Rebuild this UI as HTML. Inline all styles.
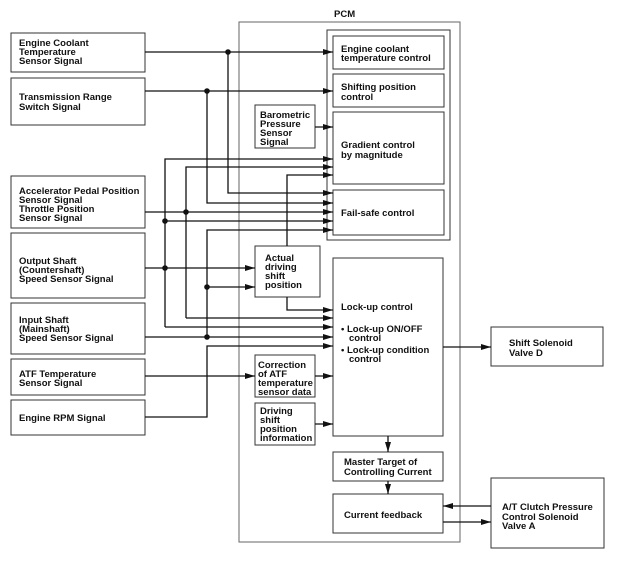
<!DOCTYPE html>
<html><head><style>
body{margin:0;background:#fff}
svg text{font-family:"Liberation Sans",Arial,sans-serif;font-weight:bold;font-size:9.5px;fill:#111}
</style></head><body>
<svg width="617" height="558" viewBox="0 0 617 558" xmlns="http://www.w3.org/2000/svg">
<defs><marker id="a" markerWidth="10" markerHeight="6" refX="10" refY="3" orient="auto" markerUnits="userSpaceOnUse"><path d="M0,0L10,3L0,6z" fill="#111"/></marker></defs>
<g fill="none" stroke="#333" stroke-width="1">
<rect x="11" y="33" width="134" height="39"/>
<rect x="11" y="78" width="134" height="47"/>
<rect x="11" y="176" width="134" height="52"/>
<rect x="11" y="233" width="134" height="65"/>
<rect x="11" y="303" width="134" height="51"/>
<rect x="11" y="359" width="134" height="36"/>
<rect x="11" y="400" width="134" height="35"/>
<rect x="239" y="22" width="221" height="520" stroke="#666"/>
<rect x="327" y="30" width="123" height="210"/>
<rect x="333" y="36" width="111" height="33"/>
<rect x="333" y="74" width="111" height="33"/>
<rect x="333" y="112" width="111" height="72"/>
<rect x="333" y="190" width="111" height="45"/>
<rect x="255" y="105" width="60" height="43"/>
<rect x="255" y="246" width="65" height="51"/>
<rect x="333" y="258" width="110" height="178"/>
<rect x="255" y="355" width="60" height="42"/>
<rect x="255" y="403" width="60" height="42"/>
<rect x="333" y="452" width="110" height="29"/>
<rect x="333" y="494" width="110" height="39"/>
<rect x="491" y="327" width="112" height="39"/>
<rect x="491" y="478" width="113" height="70"/>
</g>
<g fill="none" stroke="#111" stroke-width="1.3">
<path d="M145,52H333" marker-end="url(#a)"/>
<path d="M145,91H333" marker-end="url(#a)"/>
<path d="M315,127H333" marker-end="url(#a)"/>
<path d="M228,52V193H333" marker-end="url(#a)"/>
<path d="M207,91V203H333" marker-end="url(#a)"/>
<path d="M165,327V159H333" marker-end="url(#a)"/>
<path d="M186,318V167H333" marker-end="url(#a)"/>
<path d="M287,246V175H333" marker-end="url(#a)"/>
<path d="M145,212H333" marker-end="url(#a)"/>
<path d="M165,221H333" marker-end="url(#a)"/>
<path d="M207,337V230H333" marker-end="url(#a)"/>
<path d="M145,268H255" marker-end="url(#a)"/>
<path d="M207,287H255" marker-end="url(#a)"/>
<path d="M287,297V310H333" marker-end="url(#a)"/>
<path d="M186,318H333" marker-end="url(#a)"/>
<path d="M165,327H333" marker-end="url(#a)"/>
<path d="M145,337H333" marker-end="url(#a)"/>
<path d="M145,417H207V346H333" marker-end="url(#a)"/>
<path d="M145,376H255" marker-end="url(#a)"/>
<path d="M315,376H333" marker-end="url(#a)"/>
<path d="M315,424H333" marker-end="url(#a)"/>
<path d="M443,347H491" marker-end="url(#a)"/>
<path d="M388,436V452" marker-end="url(#a)"/>
<path d="M388,481V494" marker-end="url(#a)"/>
<path d="M491,506H443" marker-end="url(#a)"/>
<path d="M443,522H491" marker-end="url(#a)"/>
</g>
<g fill="#111">
<circle cx="228" cy="52" r="2.8"/><circle cx="207" cy="91" r="2.8"/>
<circle cx="186" cy="212" r="2.8"/><circle cx="165" cy="221" r="2.8"/>
<circle cx="165" cy="268" r="2.8"/><circle cx="207" cy="287" r="2.8"/>
<circle cx="207" cy="337" r="2.8"/>
</g>
<text x="334" y="17">PCM</text>
<text x="19" y="46">Engine Coolant</text><text x="19" y="55">Temperature</text><text x="19" y="64">Sensor Signal</text>
<text x="19" y="100">Transmission Range</text><text x="19" y="110">Switch Signal</text>
<text x="19" y="194">Accelerator Pedal Position</text><text x="19" y="203">Sensor Signal</text><text x="19" y="212">Throttle Position</text><text x="19" y="221">Sensor Signal</text>
<text x="19" y="264">Output Shaft</text><text x="19" y="273">(Countershaft)</text><text x="19" y="282">Speed Sensor Signal</text>
<text x="19" y="323">Input Shaft</text><text x="19" y="332">(Mainshaft)</text><text x="19" y="341">Speed Sensor Signal</text>
<text x="19" y="377">ATF Temperature</text><text x="19" y="386">Sensor Signal</text>
<text x="19" y="421">Engine RPM Signal</text>
<text x="341" y="52">Engine coolant</text><text x="341" y="61">temperature control</text>
<text x="341" y="90">Shifting position</text><text x="341" y="100">control</text>
<text x="341" y="148">Gradient control</text><text x="341" y="158">by magnitude</text>
<text x="341" y="216">Fail-safe control</text>
<text x="260" y="118">Barometric</text><text x="260" y="127">Pressure</text><text x="260" y="136">Sensor</text><text x="260" y="145">Signal</text>
<text x="265" y="261">Actual</text><text x="265" y="270">driving</text><text x="265" y="279">shift</text><text x="265" y="288">position</text>
<text x="341" y="310">Lock-up control</text>
<text x="341" y="332">• Lock-up ON/OFF</text><text x="349" y="341">control</text>
<text x="341" y="353">• Lock-up condition</text><text x="349" y="362">control</text>
<text x="258" y="368">Correction</text><text x="258" y="377">of ATF</text><text x="258" y="386">temperature</text><text x="258" y="395">sensor data</text>
<text x="260" y="414">Driving</text><text x="260" y="423">shift</text><text x="260" y="432">position</text><text x="260" y="441">information</text>
<text x="344" y="465">Master Target of</text><text x="344" y="475">Controlling Current</text>
<text x="344" y="518">Current feedback</text>
<text x="509" y="346">Shift Solenoid</text><text x="509" y="356">Valve D</text>
<text x="502" y="510">A/T Clutch Pressure</text><text x="502" y="520">Control Solenoid</text><text x="502" y="529">Valve A</text>
</svg>
</body></html>
